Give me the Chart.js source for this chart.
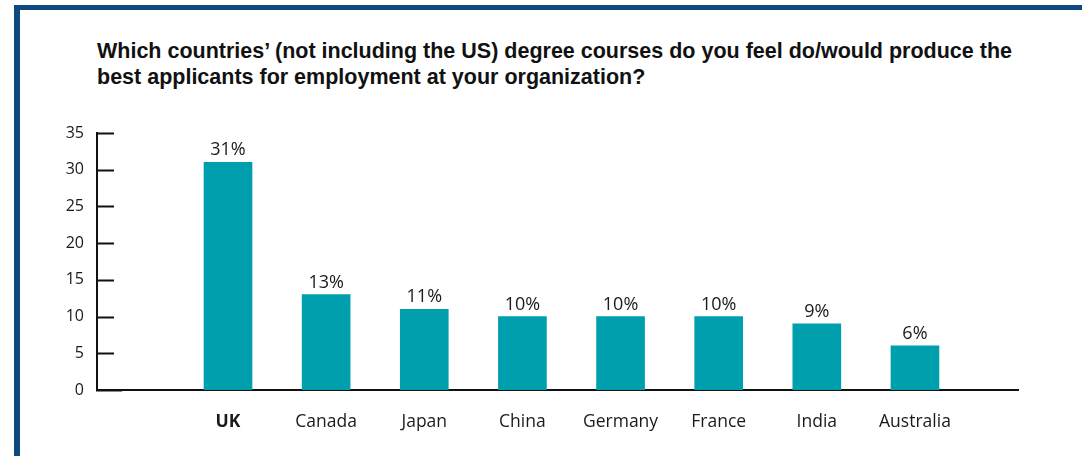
<!DOCTYPE html>
<html>
<head>
<meta charset="utf-8">
<script src="https://cdn.jsdelivr.net/npm/chart.js@4/dist/chart.umd.min.js"></script>
<style>
  html, body { margin: 0; padding: 0; background: #fff; }
  #wrap { position: relative; width: 1082px; height: 456px; overflow: hidden; }
  /* 枠線（上と左のみ） */
  #frame { position: absolute; left: 14px; top: 5px; width: 1100px; height: 500px;
           border-top: 5px solid #0e4a7f; border-left: 6px solid #0e4a7f; box-sizing: border-box; }
  #title { position: absolute; left: 97px; top: 38px; font-family: "Liberation Sans", Arial, sans-serif;
           font-weight: bold; font-size: 21.5px; line-height: 26px; color: #111; white-space: nowrap; }
  canvas { position: absolute; left: 0; top: 0; }
</style>
</head>
<body>
<div id="wrap">
  <div id="frame"></div>
  <div id="title">Which countries’ (not including the US) degree courses do you feel do/would produce the<br>best applicants for employment at your organization?</div>
  <canvas id="chart" width="1082" height="456"></canvas>
</div>
<script>
// データ
const categories = ["UK", "Canada", "Japan", "China", "Germany", "France", "India", "Australia"];
const percentValues = [31, 13, 11, 10, 10, 10, 9, 6];
const yTicks = [0, 5, 10, 15, 20, 25, 30, 35];

const barColor = "#009fae";
const fontFamily = '"Open Sans", "Noto Sans", sans-serif';

// Y軸の目盛り線（軸の内側に描く）
const innerTicks = {
  id: "innerTicks",
  afterDraw(chart) {
    const ctx = chart.ctx;
    const y = chart.scales.y;
    const left = chart.chartArea.left;
    ctx.save();
    ctx.strokeStyle = "#111";
    ctx.lineWidth = 2;
    y.ticks.forEach((t) => {
      const py = Math.round(y.getPixelForValue(t.value)) + 0.5;
      const len = t.value === 0 ? 25 : 17;
      ctx.beginPath();
      ctx.moveTo(left - 1, py);
      ctx.lineTo(left + len, py);
      ctx.stroke();
    });
    ctx.restore();
  }
};

// 棒の上に値ラベル
const barLabels = {
  id: "barLabels",
  afterDatasetsDraw(chart) {
    const ctx = chart.ctx;
    const meta = chart.getDatasetMeta(0);
    ctx.save();
    ctx.font = "18px " + fontFamily;
    ctx.fillStyle = "#1a1a1a";
    ctx.textAlign = "center";
    ctx.textBaseline = "bottom";
    meta.data.forEach((bar, i) => {
      ctx.fillText(percentValues[i] + "%", bar.x, bar.y - 3);
    });
    ctx.restore();
  }
};

const ctx = document.getElementById("chart").getContext("2d");
new Chart(ctx, {
  type: "bar",
  data: {
    datasets: [{
      data: percentValues.map((v, i) => ({ x: i, y: v })),
      backgroundColor: barColor,
      borderWidth: 0,
      barThickness: 48
    }]
  },
  options: {
    responsive: false,
    animation: false,
    layout: { padding: { top: 133, right: 64, bottom: 0, left: 0 } },
    plugins: { legend: { display: false }, tooltip: { enabled: false } },
    scales: {
      x: {
        type: "linear",
        offset: false,
        min: -1.335,
        max: 8.05,
        afterBuildTicks: (scale) => { scale.ticks = categories.map((_, i) => ({ value: i })); },
        afterFit: (scale) => { scale.height = 66; },
        grid: { display: false, drawTicks: false, offset: false },
        border: { display: true, color: "#111", width: 2 },
        ticks: {
          padding: 22,
          color: "#1a1a1a",
          autoSkip: false,
          maxRotation: 0,
          callback: (v) => categories[v] ?? "",
          font: (c) => ({ family: fontFamily, size: 17.5, weight: c.index === 0 ? "bold" : "normal" })
        }
      },
      y: {
        min: 0,
        max: 35,
        afterBuildTicks: (scale) => { scale.ticks = yTicks.map((v) => ({ value: v })); },
        afterFit: (scale) => { scale.width = 97; },
        grid: { display: false, drawTicks: false },
        border: { display: true, color: "#111", width: 2 },
        ticks: {
          padding: 13,
          color: "#1a1a1a",
          font: { family: fontFamily, size: 16 }
        }
      }
    }
  },
  plugins: [innerTicks, barLabels]
});
</script>
</body>
</html>
